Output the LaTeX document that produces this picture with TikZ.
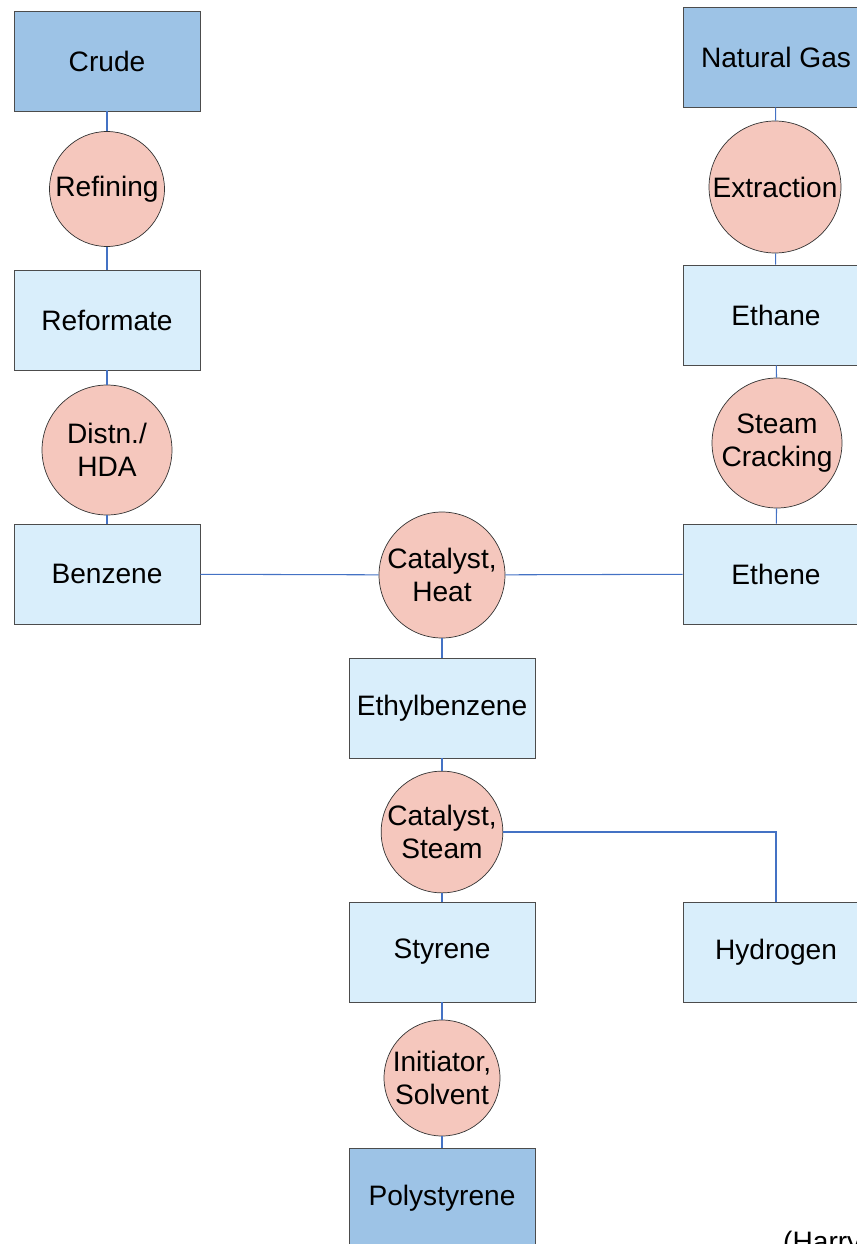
\documentclass[tikz,border=0pt]{standalone}
\usepackage{fontspec}
\setmainfont{Liberation Sans}
\usetikzlibrary{shapes}
\usetikzlibrary{positioning}
\definecolor{rawblue}{HTML}{9DC3E6}
\definecolor{midblue}{HTML}{D9EEFB}
\definecolor{procpink}{HTML}{F5C7BD}
\definecolor{linkblue}{HTML}{4472C4}

\begin{document}
\begin{tikzpicture}[x=0.02cm,y=-0.02cm,
                    every node/.style={font=\fontsize{16}{19}\selectfont},
                    feed/.style={draw=black!70,fill=rawblue,minimum width=3.72cm,minimum height=2cm,inner sep=0pt},
                    inter/.style={draw=black!70,fill=midblue,minimum width=3.72cm,minimum height=2cm,inner sep=0pt},
                    proc/.style={circle,draw=black!80,fill=procpink,align=center,inner sep=0pt},
                    link/.style={draw=linkblue,line width=0.6pt}]
                    \useasboundingbox (0,0) rectangle (857,1244);
                    \clip (0,0) rectangle (857,1244);
                    \draw (107,61) node[feed,name=crude] {Crude};
                    \draw (107,189) node[proc,minimum size=2.3cm,name=refining] {Refining};
                    \draw (107,320) node[inter,name=reformate] {Reformate};
                    \draw (107,450) node[proc,minimum size=2.6cm,name=distn] {Distn./\\HDA};
                    \draw (107,574) node[inter,name=benzene] {Benzene};
                    \draw (776,57) node[feed,name=natgas] {Natural Gas};
                    \draw (775,187) node[proc,minimum size=2.64cm,name=extraction] {Extraction};
                    \draw (776,315) node[inter,name=ethane] {Ethane};
                    \draw (777,443) node[proc,minimum size=2.6cm,name=cracking] {Steam\\Cracking};
                    \draw (776,574) node[inter,name=ethene] {Ethene};
                    \draw (442,575) node[proc,minimum size=2.52cm,name=alkylation] {Catalyst,\\Heat};
                    \draw (442,708) node[inter,name=ethylbenzene] {Ethylbenzene};
                    \draw (442,832) node[proc,minimum size=2.4cm,name=dehydro] {Catalyst,\\Steam};
                    \draw (442,952) node[inter,name=styrene] {Styrene};
                    \draw (776,952) node[inter,name=hydrogen] {Hydrogen};
                    \draw (442,1078) node[proc,minimum size=2.32cm,name=polymer] {Initiator,\\Solvent};
                    \draw (442,1198) node[feed,name=polystyrene] {Polystyrene};
                    \draw (777,1251) node[anchor=base west,name=source] {(Harry};
                    \draw[link] (crude) -- (refining);
                    \draw[link] (refining) -- (reformate);
                    \draw[link] (reformate) -- (distn);
                    \draw[link] (distn) -- (benzene);
                    \draw[link] (natgas) -- (extraction);
                    \draw[link] (extraction) -- (ethane);
                    \draw[link] (ethane) -- (cracking);
                    \draw[link] (cracking) -- (ethene);
                    \draw[link] (benzene) -- (alkylation);
                    \draw[link] (alkylation) -- (ethene);
                    \draw[link] (alkylation) -- (ethylbenzene);
                    \draw[link] (ethylbenzene) -- (dehydro);
                    \draw[link] (dehydro) -- (styrene);
                    \draw[link] (dehydro) -| (hydrogen);
                    \draw[link] (styrene) -- (polymer);
                    \draw[link] (polymer) -- (polystyrene);
                \end{tikzpicture}
\end{document}
